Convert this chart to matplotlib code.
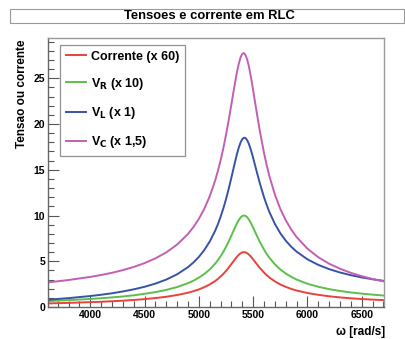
import matplotlib
matplotlib.use("Agg")
import matplotlib.pyplot as plt
from matplotlib.patches import Rectangle
from matplotlib.lines import Line2D
from matplotlib.ticker import MultipleLocator

plt.rcParams['font.family'] = ['Liberation Sans', 'DejaVu Sans']

omega = [3610, 3800, 4000, 4100, 4200, 4300, 4400, 4500, 4600, 4700, 4800, 4900,
         4950, 5000, 5050, 5100, 5150, 5175, 5200, 5225, 5250, 5275, 5300, 5325,
         5350, 5365, 5385, 5400, 5415, 5430, 5445, 5460, 5480, 5500, 5530, 5560,
         5600, 5625, 5650, 5700, 5750, 5800, 5850, 5900, 6000, 6100, 6200, 6300,
         6400, 6500, 6600, 6705]
corrente = [0.39, 0.45, 0.53, 0.57, 0.63, 0.69, 0.77, 0.86, 0.98, 1.12, 1.31, 1.56,
            1.73, 1.92, 2.17, 2.47, 2.84, 3.07, 3.33, 3.62, 3.95, 4.31, 4.70, 5.10,
            5.48, 5.68, 5.88, 5.97, 6.00, 5.97, 5.88, 5.74, 5.49, 5.20, 4.74, 4.29,
            3.76, 3.47, 3.22, 2.80, 2.46, 2.20, 1.98, 1.80, 1.53, 1.33, 1.17, 1.05,
            0.95, 0.87, 0.81, 0.75]
v_r = [0.65, 0.75, 0.88, 0.96, 1.05, 1.15, 1.28, 1.44, 1.63, 1.87, 2.18, 2.61,
       2.88, 3.21, 3.61, 4.11, 4.74, 5.12, 5.55, 6.03, 6.58, 7.18, 7.83, 8.50,
       9.13, 9.46, 9.80, 9.95, 10.00, 9.95, 9.80, 9.56, 9.15, 8.66, 7.89, 7.15,
       6.27, 5.79, 5.37, 4.66, 4.10, 3.66, 3.30, 3.00, 2.54, 2.21, 1.95, 1.75,
       1.59, 1.46, 1.35, 1.25]
v_l = [0.80, 0.97, 1.20, 1.34, 1.50, 1.70, 1.93, 2.21, 2.56, 3.00, 3.58, 4.36,
       4.87, 5.48, 6.23, 7.16, 8.34, 9.05, 9.86, 10.77, 11.80, 12.94, 14.18, 15.46,
       16.69, 17.34, 18.02, 18.35, 18.50, 18.46, 18.23, 17.84, 17.13, 16.28, 14.91, 13.58,
       11.99, 11.13, 10.36, 9.08, 8.06, 7.25, 6.59, 6.05, 5.21, 4.60, 4.14, 3.77,
       3.48, 3.23, 3.03, 2.85]
v_c = [2.69, 2.95, 3.29, 3.50, 3.74, 4.03, 4.38, 4.80, 5.32, 5.97, 6.83, 7.99,
       8.74, 9.64, 10.74, 12.11, 13.83, 14.87, 16.03, 17.35, 18.83, 20.46, 22.20, 23.98,
       25.64, 26.49, 27.33, 27.68, 27.75, 27.53, 27.04, 26.32, 25.09, 23.67, 21.45, 19.32,
       16.82, 15.47, 14.27, 12.29, 10.72, 9.48, 8.47, 7.65, 6.37, 5.44, 4.73, 4.18,
       3.73, 3.37, 3.06, 2.79]

labels = ["Corrente (x 60)", r"V$_{\mathbf{R}}$ (x 10)", r"V$_{\mathbf{L}}$ (x 1)",
          r"V$_{\mathbf{C}}$ (x 1,5)"]
colors = ["#e8423c", "#5cbf4c", "#3a52a6", "#c25fb4"]
series = [corrente, v_r, v_l, v_c]

W, H = 406, 339
fig = plt.figure(figsize=(W / 100, H / 100), dpi=100)
fig.patch.set_facecolor("white")

ax = fig.add_axes([48 / W, 1 - 307 / H, 336 / W, 269 / H])
for s, c in zip(series, colors):
    ax.plot(omega, s, color=c, lw=1.4, solid_joinstyle='round')

ax.set_xlim(3610, 6705)
ax.set_ylim(0, 29.4)
ax.xaxis.set_major_locator(MultipleLocator(500))
ax.xaxis.set_minor_locator(MultipleLocator(100))
ax.yaxis.set_major_locator(MultipleLocator(5))
ax.yaxis.set_minor_locator(MultipleLocator(1))
ax.tick_params(which='both', direction='in', color='#555555', width=0.8,
               labelsize=7.5, top=False, right=False)
ax.tick_params(which='major', length=8, pad=2)
ax.tick_params(which='minor', length=4)
for lab in ax.get_xticklabels() + ax.get_yticklabels():
    lab.set_fontweight('bold')
for sp in ax.spines.values():
    sp.set_color('#999999')
    sp.set_linewidth(1.0)
ax.spines['left'].set_color('#666666')
ax.spines['bottom'].set_color('#666666')

# legend
handles = [Line2D([], [], color=c, lw=1.4) for c in colors]
leg = fig.legend(handles, labels, loc='upper left',
                 bbox_to_anchor=(60 / W, 1 - 45 / H), bbox_transform=fig.transFigure,
                 prop={'weight': 'bold', 'size': 9}, frameon=True, fancybox=False,
                 edgecolor='#777777', labelspacing=1.05, handlelength=1.6,
                 handletextpad=0.4, borderpad=0.45, borderaxespad=0)
leg.get_frame().set_linewidth(0.9)

# title box
fig.patches.append(Rectangle((10 / W, 1 - 23 / H), 394 / W, 14 / H,
                             transform=fig.transFigure, facecolor='white',
                             edgecolor='#999999', lw=0.8))
fig.text(209 / W, 1 - 16 / H, "Tensoes e corrente em RLC", ha='center', va='center',
         fontsize=9.4, fontweight='bold')

fig.text(22 / W, 1 - 39 / H, "Tensao ou corrente", rotation=90, ha='center', va='top',
         fontsize=8.5, fontweight='bold')
fig.text(385 / W, 1 - 332 / H, "ω [rad/s]", ha='right', va='center',
         fontsize=8.5, fontweight='bold')

fig.savefig("out.png", dpi=100)
